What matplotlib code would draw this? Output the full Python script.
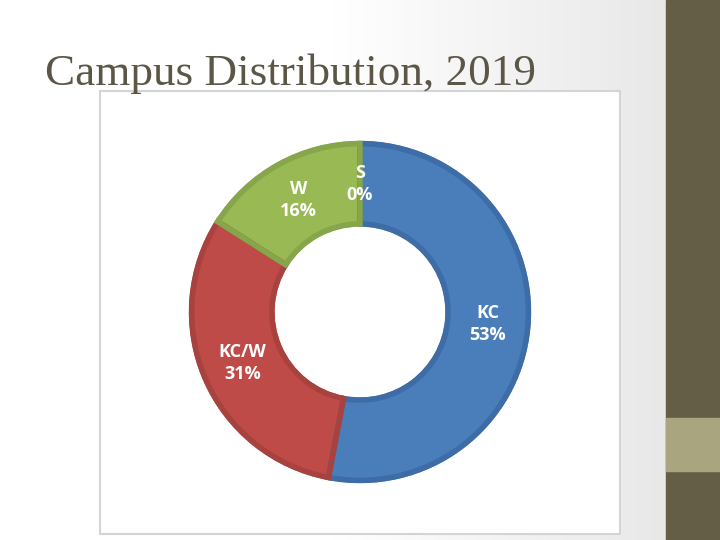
import matplotlib.pyplot as plt
import numpy as np
from matplotlib.patches import Rectangle

# data
campuses = ['KC', 'KC/W', 'W', 'S']
shares = [53, 31, 16, 0]
fills = ['#4A7EBB', '#BE4B48', '#98B954', '#7F7F7F']
edges = ['#3D6CA6', '#A8423F', '#87A54A', '#7F7F7F']

W, H = 720, 540
fig = plt.figure(figsize=(7.2, 5.4), dpi=100)

# slide background in pixel coords
bg = fig.add_axes([0, 0, 1, 1])
bg.set_xlim(0, W)
bg.set_ylim(H, 0)
bg.axis('off')

# soft grey gradient towards the right edge
grad = np.linspace(0, 1, 300)
grad = np.clip((grad - 0.5) / 0.5, 0, 1)
img = np.ones((2, 300, 3))
for c in range(3):
    img[:, :, c] = 1 - grad * 0.09
bg.imshow(img, extent=[0, 666, H, 0], aspect='auto', zorder=0)

# right side bars
bg.add_patch(Rectangle((666, 0), 54, H, color='#655E47', zorder=1))
bg.add_patch(Rectangle((666, 418), 54, 53, color='#A9A67F', zorder=2))

# chart frame
bg.add_patch(Rectangle((100, 91), 520, 443, facecolor='white',
                       edgecolor='#D4D4D4', linewidth=1.5, zorder=2))

bg.text(45, 85, 'Campus Distribution, 2019', fontsize=32.5,
        family='Liberation Serif', color='#5B5646', va='baseline', zorder=3)

# donut
cx, cy, r = 360, 312, 171
ax = fig.add_axes([(cx - r) / W, (H - cy - r) / H, 2 * r / W, 2 * r / H])
ax.pie(shares, colors=fills, startangle=90, counterclock=False, radius=1,
       wedgeprops=dict(width=0.5, linewidth=0))
# darker rim on each slice
wedges, _ = ax.pie(shares, startangle=90, counterclock=False,
                   radius=0.985, wedgeprops=dict(width=0.47, linewidth=4))
for w, e, val in zip(wedges, edges, shares):
    w.set_facecolor('none')
    w.set_edgecolor(e if val > 0 else 'none')
ax.set_xlim(-1, 1)
ax.set_ylim(-1, 1)
ax.set_aspect('equal')

total = sum(shares)
cum = 0
for name, val in zip(campuses, shares):
    mid = (cum + val / 2) / total * 2 * np.pi
    cum += val
    x = 0.75 * np.sin(mid)
    y = 0.75 * np.cos(mid)
    ax.text(x, y, f'{name}\n{val / total:.0%}', ha='center', va='center',
            fontsize=13, fontweight='bold', color='white',
            family='Open Sans', linespacing=1.3)

fig.savefig('out.png', dpi=100)
